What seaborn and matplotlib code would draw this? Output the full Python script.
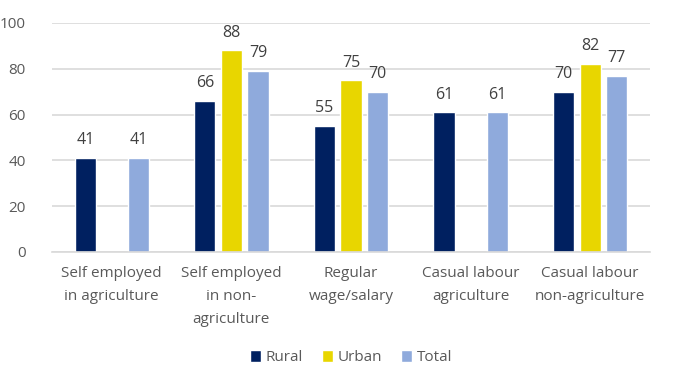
import matplotlib
matplotlib.use("Agg")
import matplotlib.pyplot as plt
import seaborn as sns
import pandas as pd
import numpy as np

categories = ["Self employed\nin agriculture", "Self employed\nin non-\nagriculture",
              "Regular\nwage/salary", "Casual labour\nagriculture", "Casual labour\nnon-agriculture"]
series = ["Rural", "Urban", "Total"]
rural = [41, 66, 55, 61, 70]
urban = [np.nan, 88, 75, np.nan, 82]
total = [41, 79, 70, 61, 77]
colors = ["#002060", "#E8D600", "#8FAADC"]

rows = []
for s, vals in zip(series, [rural, urban, total]):
    for c, v in zip(categories, vals):
        rows.append({"category": c, "series": s, "value": v})
df = pd.DataFrame(rows)

sns.set_style("white")
plt.rcParams['font.family'] = ['Open Sans', 'DejaVu Sans']

fig = plt.figure(figsize=(6.75, 3.87), dpi=100)
ax = fig.add_axes([0.077, 0.349, 0.886, 0.5916])

sns.barplot(data=df, x="category", y="value", hue="series", order=categories,
            hue_order=series, palette=colors, width=0.665, gap=0.2, ax=ax,
            saturation=1, legend=True, err_kws={'linewidth': 0})

for cont in ax.containers:
    labels = ["" if np.isnan(b.get_height()) else f"{b.get_height():.0f}" for b in cont]
    ax.bar_label(cont, labels=labels, padding=7, fontsize=11.5, color="#404040")

ax.set_ylim(0, 100)
ax.set_yticks([0, 20, 40, 60, 80, 100])
ax.yaxis.grid(True, color="#D9D9D9", linewidth=1.2)
ax.set_axisbelow(True)
for sp in ["top", "right", "left"]:
    ax.spines[sp].set_visible(False)
ax.spines["bottom"].set_color("#D9D9D9")
ax.spines["bottom"].set_linewidth(1.2)
ax.tick_params(axis="both", length=0, labelsize=11, labelcolor="#595959")
ax.tick_params(axis="x", pad=10)
ax.tick_params(axis="y", pad=19)
for lbl in ax.get_xticklabels():
    lbl.set_linespacing(1.75)
ax.set_xlabel("")
ax.set_ylabel("")

leg = ax.legend(loc="lower center", bbox_to_anchor=(0.5, -0.555), ncol=3, frameon=False,
                fontsize=11, handlelength=0.75, handleheight=0.75, handletextpad=0.3,
                columnspacing=1.2)
for t in leg.get_texts():
    t.set_color("#595959")

fig.savefig("out.png", dpi=100)
